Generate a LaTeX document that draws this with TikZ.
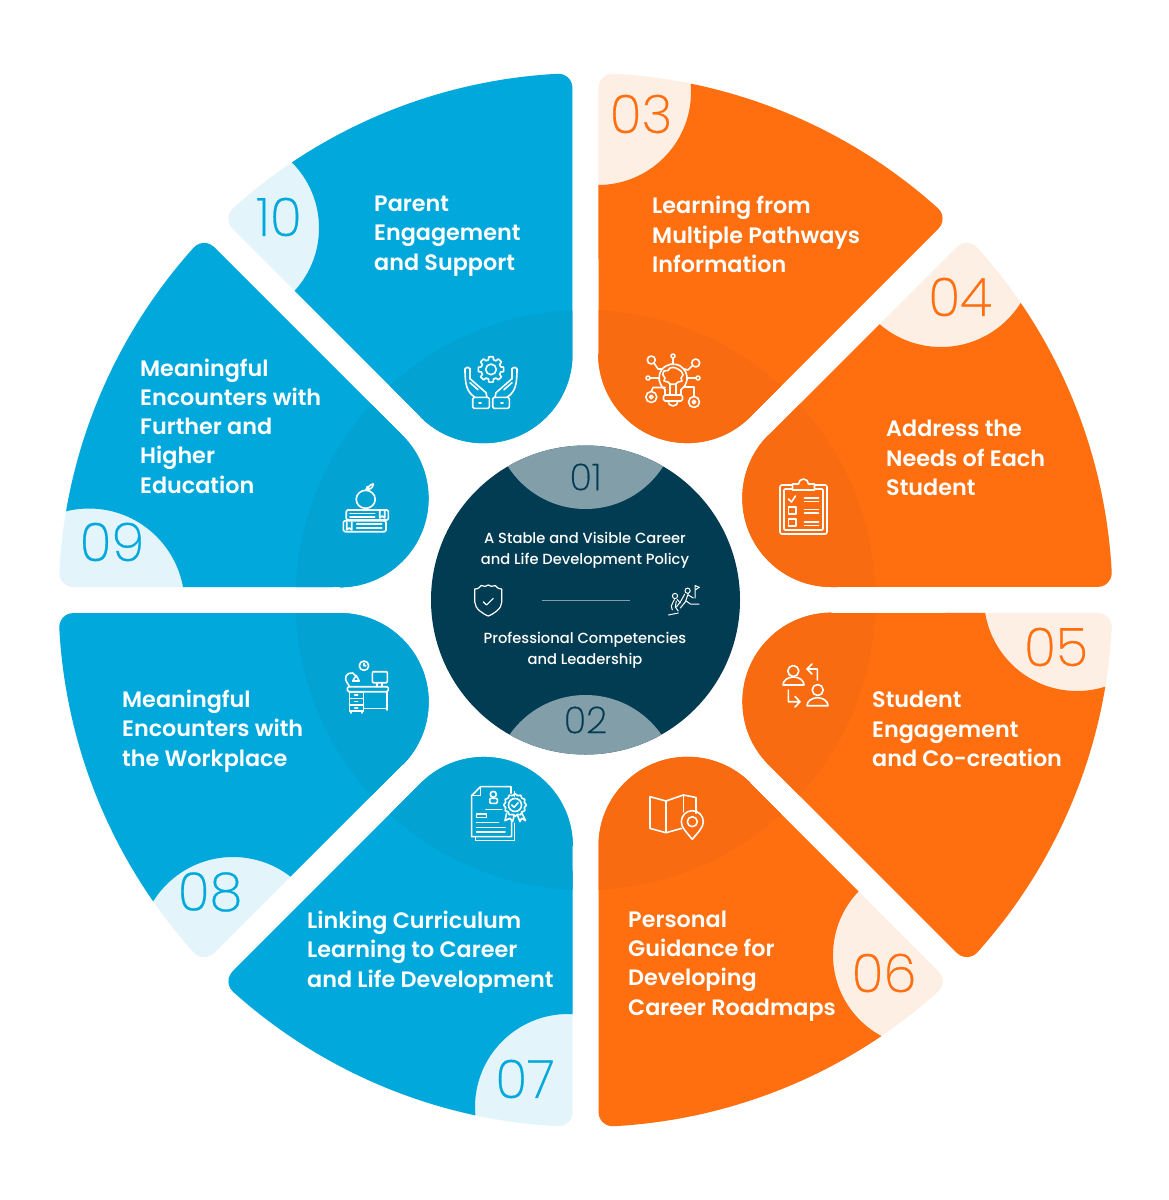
\documentclass[tikz,border=0pt]{standalone}
\usepackage{fontspec}
\setmainfont{Poppins}[UprightFont=* Medium]
\newfontfamily\numfont{Poppins}[UprightFont=* ExtraLight,FakeBold=0.5]
\newfontfamily\labfont{Poppins}[UprightFont=* SemiBold]
\definecolor{segorange}{HTML}{FF6F0F}
\definecolor{segorangedk}{HTML}{F86B10}
\definecolor{segorangepale}{HTML}{FEEFE5}
\definecolor{segblue}{HTML}{00A8DC}
\definecolor{segbluedk}{HTML}{02A2D3}
\definecolor{segbluepale}{HTML}{E3F5FB}
\definecolor{hubdark}{HTML}{023C52}
\definecolor{hubtab}{HTML}{829EA9}
\newcommand{\segpath}{(86.97:246.14) -- (88.55:512.46) arc[start angle=180,end angle=86.98,radius=14] arc[start angle=86.98,end angle=48.02,radius=527] arc[start angle=48.02,end angle=-45,radius=14] -- (48.03:246.14) arc[start angle=-45,end angle=-180,radius=89] -- cycle}
\tikzset{
  seglabel/.style={anchor=west,align=left,inner sep=0pt,white,font=\labfont\fontsize{22.3}{29.3}\selectfont},
  hublabel/.style={align=center,inner sep=0pt,white,font=\fontsize{14.7}{21}\selectfont},
  segnum/.style={inner sep=0pt,font=\numfont\fontsize{53}{53}\selectfont},
  hubnum/.style={inner sep=0pt,hubdark,font=\numfont\fontsize{37}{37}\selectfont},
  iconline/.style={white,line width=1.6pt,line join=round,line cap=round},
  iconthin/.style={white,line width=1pt,line join=round,line cap=round}
}
\begin{document}
\begin{tikzpicture}[x=1pt,y=1pt]
  \fill[white] (0,0) rectangle (1169,-1200);
  \useasboundingbox (0,0) rectangle (1169,-1200);
  \foreach \rot/\hue/\cx/\cy/\cr in {0/orange/598/92/93,-45/orange/941/253/94,-90/orange/1077/598/93,-135/orange/925/955/92,-180/blue/568/1107/93,-225/blue/233/951/94,-270/blue/89/604/95.5,-315/blue/226/228/93}{
    \fill[seg\hue pale,shift={(585.5,-600)},rotate=\rot] \segpath;
    \begin{scope}[even odd rule]
      \clip (0,0) rectangle (1169,-1200) (\cx,-\cy) circle[radius=\cr];
      \fill[seg\hue,shift={(585.5,-600)},rotate=\rot] \segpath;
    \end{scope}
    \begin{scope}
      \clip (585.5,-600) circle[radius=290];
      \fill[seg\hue dk,shift={(585.5,-600)},rotate=\rot] \segpath;
    \end{scope}
  }
  \fill[hubdark] (585.5,-600) circle[radius=154.5];
  \begin{scope}
    \clip (585.5,-600) circle[radius=154.5];
    \fill[hubtab] (585.5,-417) circle[radius=92];
    \fill[hubtab] (585.5,-787.5) circle[radius=92.5];
  \end{scope}
  \node[hubnum] (num01) at (585.5,-477) {01};
  \node[hubnum] (num02) at (585.5,-720) {02};
  \node[hublabel] (hubtop) at (585,-550.5) {A Stable and Visible Career\\and Life Development Policy};
  \node[hublabel] (hubbottom) at (585,-650) {Professional Competencies\\and Leadership};
  \draw[hubtab,line width=1pt] (541.5,-600) -- (629.5,-600);
  \node[segnum,segorange] (num03) at (641,-114) {03};
  \node[segnum,segorange] (num04) at (960,-297) {04};
  \node[segnum,segorange] (num05) at (1056,-647) {05};
  \node[segnum,segorange] (num06) at (884,-973) {06};
  \node[segnum,segblue] (num07) at (525,-1079) {07};
  \node[segnum,segblue] (num08) at (210,-892) {08};
  \node[segnum,segblue] (num09) at (112,-542) {09};
  \node[segnum,segblue] (num10) at (279,-217) {10};
  \node[seglabel] (lab03) at (652,-234.5) {Learning from\\Multiple Pathways\\Information};
  \node[seglabel] (lab04) at (886,-458) {Address the\\Needs of Each\\Student};
  \node[seglabel] (lab05) at (872,-729) {Student\\Engagement\\and Co-creation};
  \node[seglabel] (lab06) at (628,-966) {Personal\\Guidance for\\Developing\\Career Roadmaps};
  \node[seglabel] (lab07) at (307,-952) {Linking Curriculum\\Learning to Career\\and Life Development};
  \node[seglabel] (lab08) at (122,-731) {Meaningful\\Encounters with\\the Workplace};
  \node[seglabel] (lab09) at (140,-426) {Meaningful\\Encounters with\\Further and\\Higher\\Education};
  \node[seglabel] (lab10) at (374,-236) {Parent\\Engagement\\and Support};

  \begin{scope}[shift={(673,-380)},iconline]
    \draw (-8,-9.5) arc[start angle=235,end angle=-55,radius=14];
    \draw (-8,-9.5) -- (-8,-15) (8,-9.5) -- (8,-15);
    \draw[rounded corners=1.5pt] (-9.5,-15) rectangle (9.5,-21);
    \draw (-5,-21) arc[start angle=180,end angle=360,radius=5];
    \draw plot[smooth cycle] coordinates {(-10,5) (-9,9) (-5,9.5) (-3,12) (1,12.5) (5,11) (8,9) (10,5) (8,2) (9,-1) (5,-2) (3,-4) (-3,-4) (-5,-2) (-9,-1) (-8,2)};
    \draw (-3,-4) -- (-3,-15) (3,-4) -- (3,-15);
    \draw (0,24) circle[radius=2] (0,22) -- (0,16);
    \draw (-21.7,20) circle[radius=4] (-19,17) -- (-15,11) -- (-11,11);
    \draw (22.7,17) circle[radius=4] (19.5,14.5) -- (15,10) -- (11,11);
    \draw (-25,2) circle[radius=2] (-23,2) -- (-14,2);
    \draw (25,2) circle[radius=2] (23,2) -- (14,2);
    \draw (-21.7,-17) circle[radius=5.5] (-21.7,-17) circle[radius=1.8] (-21.7,-11.5) -- (-20,-7.5) -- (-8,-7.5);
    \draw (21,-22) circle[radius=5.5] (21,-22) circle[radius=1.8] (21,-16.5) -- (21,-7) -- (11,-7);
  \end{scope}

  \begin{scope}[shift={(803.5,-509)},iconline]
    \draw[rounded corners=2pt] (-23.5,-25) rectangle (23.5,24);
    \draw[rounded corners=1pt] (-19.5,-21) rectangle (19.5,20);
    \fill[segorange] (-11,18) rectangle (11,26);
    \draw (-11,19) -- (-11,25) -- (-5,25) arc[start angle=180,end angle=0,radius=5] -- (11,25) -- (11,19) -- cycle;
    \draw (-15,10) -- (-12,7) -- (-8,13);
    \draw (1,11) -- (15,11) (1,7.5) -- (15,7.5);
    \draw (-15,-5) rectangle (-7.5,2.3) (1,-0.5) -- (15,-0.5) (1,-4) -- (15,-4);
    \draw (-15,-17) rectangle (-7.5,-10) (1,-13) -- (15,-13) (1,-16.5) -- (15,-16.5);
  \end{scope}

  \begin{scope}[shift={(805,-685)},iconline]
    \draw (-11.7,14) circle[radius=5.5];
    \draw (-22,0) arc[start angle=180,end angle=0,x radius=10.5,y radius=8] -- cycle;
    \draw (12.7,-5) circle[radius=5.5];
    \draw (2,-20.7) arc[start angle=180,end angle=0,x radius=10.5,y radius=8] -- cycle;
    \draw (12.3,5) -- (12.3,16) -- (2,16) (7,21) -- (2,16) -- (7,11);
    \draw (-16.7,-5) -- (-16.7,-16.7) -- (-5,-16.7) (-10,-11.5) -- (-5,-16.7) -- (-10,-22);
  \end{scope}

  \begin{scope}[shift={(673.3,-816.7)},iconline]
    \draw (22.7,3.3) -- (22.7,19.3) -- (10,21.7) -- (-7.3,15.7) -- (-23.3,20) -- (-23.3,-11.7) -- (-7.3,-16) -- (8.3,-11.7);
    \draw (-7.3,15.7) -- (-7.3,-15.5) (10,21) -- (10,5);
    \draw (19,-22.7) .. controls (13,-15) and (8,-11) .. (8,-5) arc[start angle=180,end angle=0,radius=11] .. controls (30,-11) and (25,-15) .. (19,-22.7) -- cycle;
    \draw (19,-5) circle[radius=5];
  \end{scope}

  \begin{scope}[shift={(498.3,-813.3)},iconline]
    \draw (12.7,20) -- (12.7,26.7) -- (-17.7,26.7) -- (-26.7,17.7) -- (-26.7,-23.3) -- (13.3,-23.3) -- (13.3,-8);
    \draw (-17.7,26.7) -- (-17.7,17.7) -- (-26.7,17.7);
    \draw (-22.7,-23.3) -- (-22.7,-27.3) -- (16,-27.3) -- (16,-10) (16,21.7) -- (16,17);
    \draw (-5,19) circle[radius=3];
    \draw[rounded corners=1pt] (-8.5,10) rectangle (-1,15);
    \draw (-12.3,4) -- (3.3,4);
    \draw (-21.7,-.7) rectangle (-11.7,-4.3);
    \draw (-21.7,-9) -- (0,-9) (-21.7,-14.3) -- (6.7,-14.3) (-21.7,-18.7) -- (6.7,-18.7);
    \draw plot[smooth cycle,domain=0:345,samples=24] ({16.7+(10.5+0.8*cos(12*\x))*cos(\x)},{8.3+(10.5+0.8*cos(12*\x))*sin(\x)});
    \draw (16.7,8.3) circle[radius=6.5];
    \draw (13.5,8.3) -- (15.7,6) -- (19.8,10.5);
    \draw (8.3,0) -- (6.7,-7.3) -- (11.7,-5) -- (14.3,-8.3) -- (16,-1.7);
    \draw (19,-1.7) -- (21.7,-8.3) -- (23.3,-5) -- (27.3,-7.3) -- (23.3,.7);
  \end{scope}

  \begin{scope}[shift={(366.7,-690)},iconline]
    \draw[rounded corners=1.5pt] (-19.3,-1.7) rectangle (21.7,3.3);
    \draw (-17.3,-1.7) rectangle (-3.3,-21);
    \draw (-17.3,-8.3) -- (-3.3,-8.3) (-17.3,-15) -- (-3.3,-15);
    \draw (-12,-5) -- (-9,-5) (-12,-11.5) -- (-9,-11.5) (-12,-18) -- (-9,-18);
    \draw (-15.5,-21) -- (-15.5,-23) (-5,-21) -- (-5,-23);
    \draw (-3.3,-18.3) -- (20,-18.3) (20,-1.7) -- (20,-20);
    \draw[rounded corners=1pt] (5.7,7.3) rectangle (20.7,18.3);
    \draw (10,7.3) -- (10,3.3) (15,7.3) -- (15,3.3);
    \draw (-2.7,24.3) circle[radius=4.7] (-2.7,26.5) -- (-2.7,24.3) -- (-.8,24.3);
    \draw (-17,3.3) -- (-20,8) .. controls (-23,12) and (-20,18) .. (-14,17) -- (-11,14);
    \draw (-14,9) -- (-7.5,9) -- (-10.5,14.5) -- cycle;
  \end{scope}

  \begin{scope}[shift={(366.7,-510)},iconline]
    \draw (-1,10.7) circle[x radius=9.5,y radius=9];
    \draw (-1,19.5) -- (.7,23.5) (.7,21) .. controls (3,26) and (6,26) .. (6.7,26) .. controls (6,22) and (3,20) .. (.7,21);
    \draw[rounded corners=1.5pt] (21.7,0) -- (-20.5,0) -- (-20.5,-10) -- (21.7,-10) -- cycle;
    \draw (13,-1) -- (13,-8) -- (15.5,-6) -- (18,-8) -- (18,-1);
    \draw (-16.7,-3.3) -- (8,-3.3) (-16.7,-6.7) -- (8,-6.7);
    \draw[rounded corners=1.5pt] (19.3,-10.7) -- (-23.3,-10.7) -- (-23.3,-21.7) -- (19.3,-21.7) -- cycle;
    \draw (-20,-12) -- (-20,-20) -- (-17.5,-18) -- (-15,-20) -- (-15,-12);
    \draw (-10,-14) -- (15,-14) (-10,-17.7) -- (15,-17.7);
  \end{scope}

  \begin{scope}[shift={(491,-381.7)},iconline]
    \draw plot[sharp cycle,domain=0:355,samples=72] ({12.7*cos(\x)*(cos(8*\x)>0.1?1:0.78)},{12.3+12.7*sin(\x)*(cos(8*\x)>0.1?1:0.78)});
    \draw (0,12.3) circle[radius=5.3];
    \foreach \s in {1,-1}{
      \begin{scope}[xscale=\s]
        \draw[rounded corners=1.5pt] (-18.3,-15.7) rectangle (-1.7,-26.7);
        \draw (-16,-15.7) .. controls (-24,-10) and (-26,-4) .. (-26,13) (-26,13) .. controls (-25,15) and (-22,15) .. (-21,13);
        \draw (-21,13) -- (-21,3);
        \draw (-21,3) -- (-5,-11) -- (-4,-15.7);
        \draw (-21,-1) -- (-13,-8);
      \end{scope}
    }
    \draw (-12,-21) -- (-10,-21) (12,-21) -- (10,-21);
  \end{scope}

  \begin{scope}[shift={(488.3,-600)},iconline,line width=1.2pt]
    \draw (-13.5,11) .. controls (-10,11) and (-8,13) .. (-7,14.5) .. controls (-4.5,13) and (-2,13.5) .. (0,15) .. controls (2,13.5) and (4.5,13) .. (7,14.5) .. controls (8,13) and (10,11) .. (13.5,11) -- (13.5,-2) .. controls (13.5,-9) and (5,-14) .. (0,-16) .. controls (-5,-14) and (-13.5,-9) .. (-13.5,-2) -- cycle;
    \draw (-5,-1.7) -- (-1.7,-5) -- (5,1.7);
  \end{scope}

  \begin{scope}[shift={(683.3,-600)},iconthin]
    \draw (11.7,2) -- (11.7,14.5) -- (16,12.7) -- (11.7,10);
    \draw (4.3,9.3) circle[radius=2.6] (-8.3,4) circle[radius=2.6];
    \draw (1.5,6) -- (-3,-2) -- (-7,-7) (5,6.5) -- (2,-2) -- (-3,-8);
    \draw (5,5) -- (10,2) (7,-4) -- (15.7,-4) (7,-4) -- (3,-1);
    \draw (-9,0.5) -- (-12,-6) -- (-11,-10) (-6,0.5) -- (-3,-3) (-7,-1) -- (-8,-7) -- (-5,-11);
    \draw (-15,-15) -- (-5,-13);
  \end{scope}
\end{tikzpicture}
\end{document}
